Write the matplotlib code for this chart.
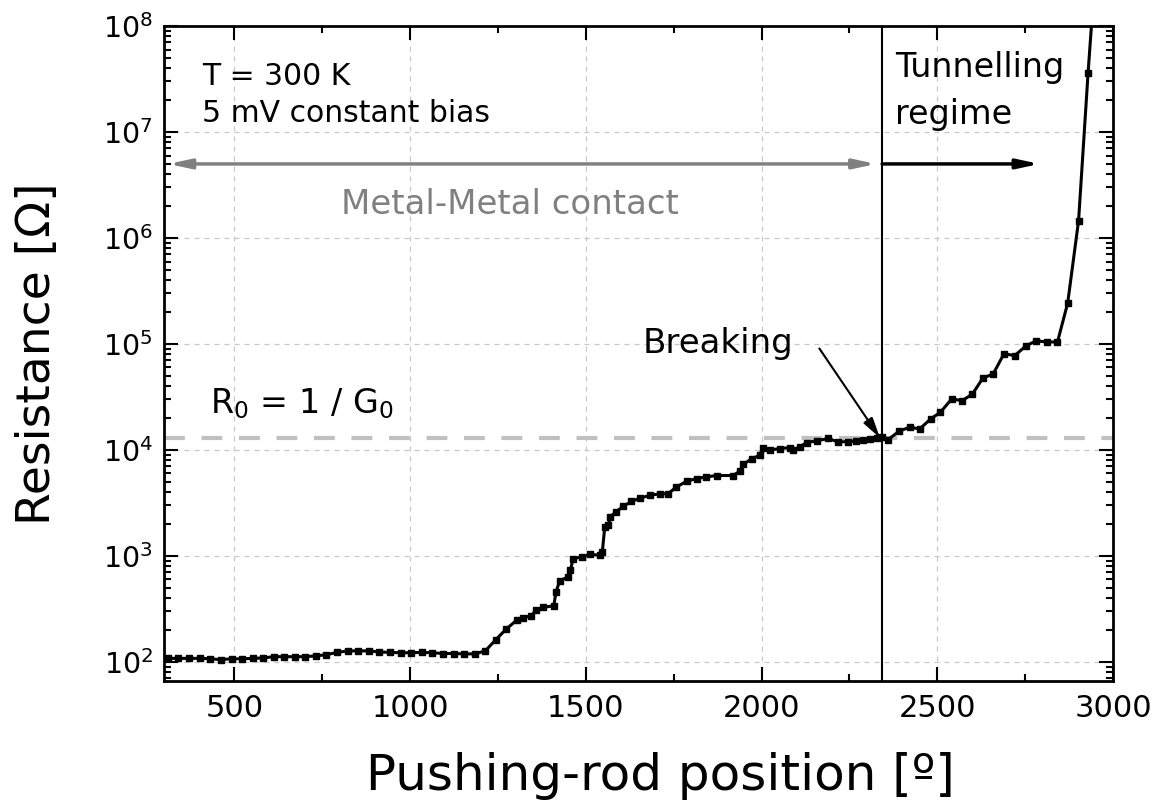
import numpy as np
import matplotlib
matplotlib.use("Agg")
from matplotlib import pyplot as plt
from matplotlib.ticker import LogLocator, MultipleLocator, NullFormatter

# pushing-rod position [deg] and measured resistance [Ohm]
position = [311, 341, 371, 401, 431, 461, 492, 522, 552, 582, 612, 642, 672, 702,
            732, 762, 793, 823, 853, 883, 913, 943, 973, 1003, 1033, 1063, 1094,
            1124, 1154, 1184, 1214, 1244, 1274, 1304, 1322, 1345, 1358, 1379, 1409,
            1415, 1426, 1450, 1456, 1464, 1488, 1511, 1540, 1547, 1554, 1564, 1570,
            1587, 1606, 1630, 1654, 1682, 1711, 1734, 1758, 1787, 1815, 1843, 1872,
            1919, 1938, 1948, 1972, 1995, 2003, 2024, 2052, 2081, 2090, 2109, 2128,
            2157, 2190, 2218, 2247, 2270, 2290, 2310, 2328, 2343, 2360, 2391, 2421,
            2450, 2481, 2509, 2541, 2571, 2600, 2630, 2659, 2690, 2720, 2751, 2781,
            2811, 2842, 2871, 2902, 2929, 2945]
resistance = [108, 108, 108, 108, 107, 105, 107, 107, 108, 109, 112, 112, 112, 112,
              114, 117, 123, 127, 127, 127, 124, 123, 122, 122, 123, 122, 120,
              120, 119, 119, 127, 162, 205, 248, 262, 272, 308, 327, 339,
              454, 586, 631, 730, 943, 978, 1037, 1015, 1092, 1889, 1958, 2349,
              2622, 2929, 3268, 3513, 3727, 3863, 3863, 4474, 5067, 5373, 5570, 5737,
              5737, 6310, 7300, 8260, 8890, 10520, 10000, 10300, 10520, 10000, 10690, 11750,
              12190, 12830, 11900, 12000, 12100, 12300, 12600, 12950, 13270, 12500, 15000, 16400,
              15800, 19600, 22700, 30300, 29200, 33700, 47800, 52100, 81100, 77600, 95100, 107400,
              104400, 104400, 243000, 1460000, 36000000, 200000000]

y_ticks = [1e2, 1e3, 1e4, 1e5, 1e6, 1e7, 1e8]
x_ticks = [500, 1000, 1500, 2000, 2500, 3000]

x_break = 2343        # breaking point
R0 = 12906            # 1/G0
arrow_level = 5e6

plt.rcParams['font.family'] = ['DejaVu Sans']
plt.rcParams['mathtext.fontset'] = 'dejavusans'

fig = plt.figure(figsize=(11.6, 8.07), dpi=100)
ax = fig.add_axes([0.1414, 0.1561, 0.8181, 0.8116])

ax.grid(True, which='major', color='#c8c8c8', linestyle=(0, (4, 4)), linewidth=0.9)
ax.axhline(R0, color='#c0c0c0', linestyle=(0, (5, 4)), linewidth=3, zorder=2)
ax.axvline(x_break, color='black', linewidth=1.5, zorder=3)

ax.plot(position, resistance, color='black', linewidth=2.2, marker='s',
        markersize=4.5, zorder=4)

ax.set_yscale('log')
ax.set_xlim(300, 3000)
ax.set_ylim(66, 1e8)

ax.set_xticks(x_ticks)
ax.xaxis.set_minor_locator(MultipleLocator(250))
ax.set_yticks(y_ticks)
ax.yaxis.set_minor_locator(LogLocator(base=10, subs=np.arange(2, 10), numticks=12))
ax.yaxis.set_minor_formatter(NullFormatter())

ax.tick_params(which='both', direction='in', top=True, right=True, width=1.5)
ax.tick_params(which='major', length=10)
ax.tick_params(which='minor', length=5)
ax.tick_params(axis='x', labelsize=22, pad=9)
ax.tick_params(axis='y', labelsize=20.5, pad=8)
for s in ax.spines.values():
    s.set_linewidth(2)

ax.set_xlabel('Pushing-rod position [º]', fontsize=36)
ax.set_ylabel('Resistance [Ω]', fontsize=34)
ax.xaxis.set_label_coords(0.523, -0.108)
ax.yaxis.set_label_coords(-0.11, 0.5)

# annotations
ax.text(0.04, 0.91, 'T = 300 K', transform=ax.transAxes, fontsize=21.5, va='baseline')
ax.text(0.04, 0.853, '5 mV constant bias', transform=ax.transAxes, fontsize=21.5, va='baseline')
ax.text(0.3646, 0.728, 'Metal-Metal contact', transform=ax.transAxes, fontsize=24.5,
        color='#808080', ha='center', va='center')
ax.text(0.77, 0.922, 'Tunnelling', transform=ax.transAxes, fontsize=24, va='baseline')
ax.text(0.77, 0.85, 'regime', transform=ax.transAxes, fontsize=24, va='baseline')
ax.text(0.0485, 0.409, r'R$_0$ = 1 / G$_0$', transform=ax.transAxes, fontsize=24, va='baseline')

ax.annotate('', xy=(312, arrow_level), xytext=(2326, arrow_level),
            arrowprops=dict(arrowstyle='<|-|>,head_length=1.3,head_width=0.28',
                            color='#808080', lw=2.5, shrinkA=0, shrinkB=0))
ax.annotate('', xy=(2791, arrow_level), xytext=(x_break, arrow_level),
            arrowprops=dict(arrowstyle='-|>,head_length=1.3,head_width=0.28',
                            color='black', lw=2.5, shrinkA=0, shrinkB=0))
ax.annotate('Breaking', xy=(2337, 13000), xytext=(0.5047, 0.5008),
            textcoords='axes fraction', fontsize=24.5, va='baseline',
            arrowprops=dict(arrowstyle='-|>,head_length=0.5,head_width=0.13',
                            color='black', lw=1.5, shrinkA=0, shrinkB=0,
                            relpos=(1.17, 0.35)))

fig.savefig('out.png', dpi=100)
